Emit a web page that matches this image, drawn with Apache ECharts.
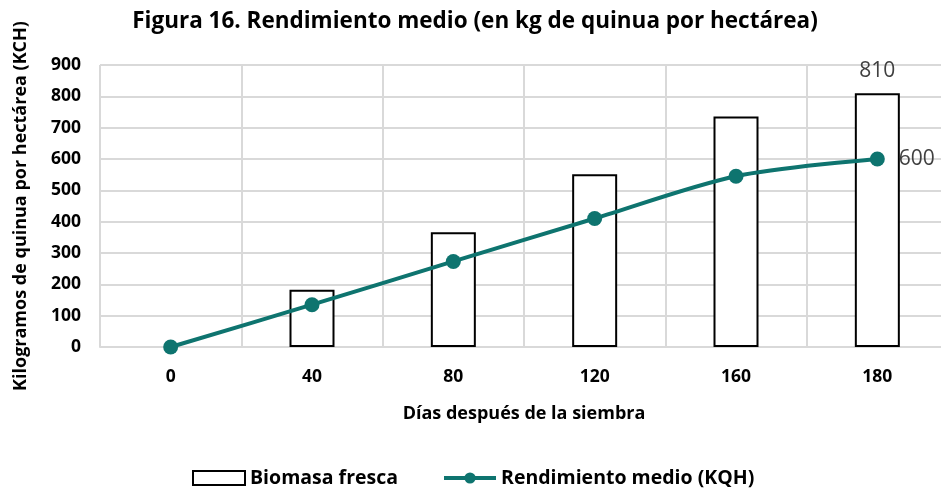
<!DOCTYPE html>
<html>
<head>
<meta charset="utf-8">
<script src="https://cdn.jsdelivr.net/npm/echarts@6/dist/echarts.min.js"></script>
<style>
  html, body { margin: 0; padding: 0; background: #fff; }
  #chart { width: 941px; height: 490px; }
</style>
</head>
<body>
<div id="chart"></div>
<script>
// days after sowing
const dias = ['0', '40', '80', '120', '160', '180'];
// fresh biomass (bars) – no bar at day 0
const biomasa = [null, 183, 366, 551, 736, 810];
// mean yield (line)
const rendimiento = [0, 135, 273, 410, 545, 600];

const FONT = '"Open Sans", "Liberation Sans", sans-serif';
const teal = '#0e746f';

const chart = echarts.init(document.getElementById('chart'));

const option = {
  animation: false,
  textStyle: { fontFamily: FONT },
  title: {
    text: 'Figura 16. Rendimiento medio (en kg de quinua por hectárea)',
    left: 470,
    textAlign: 'center',
    top: 5,
    textStyle: { fontSize: 22.5, fontWeight: 'bold', color: '#000', fontFamily: FONT }
  },
  legend: {
    top: 463,
    left: 187,
    itemGap: 44,
    itemWidth: 52,
    itemHeight: 14,
    textStyle: { fontSize: 19.5, fontWeight: 'bold', color: '#000', fontFamily: FONT },
    data: [
      { name: 'Biomasa fresca', icon: 'rect' },
      { name: 'Rendimiento medio (KQH)', lineStyle: { width: 4 } }
    ]
  },
  grid: { left: 100, right: -7, top: 65, bottom: 143, outerBoundsMode: 'none' },
  xAxis: {
    type: 'category',
    data: dias,
    name: 'Días después de la siembra',
    nameLocation: 'middle',
    nameGap: 58,
    nameTextStyle: { fontSize: 18, fontWeight: 'bold', color: '#000' },
    axisLine: { lineStyle: { color: '#d9d9d9', width: 2 } },
    axisTick: { show: false },
    axisLabel: { fontSize: 17.5, fontWeight: 'bold', color: '#000', margin: 21 },
    splitLine: { show: true, interval: 0, lineStyle: { color: '#d9d9d9', width: 2 } }
  },
  yAxis: {
    type: 'value',
    min: 0,
    max: 900,
    interval: 100,
    name: 'Kilogramos de quinua por hectárea (KCH)',
    nameLocation: 'middle',
    nameGap: 70,
    nameTextStyle: { fontSize: 18, fontWeight: 'bold', color: '#000' },
    axisLine: { show: false },
    axisTick: { show: false },
    axisLabel: { fontSize: 17.5, fontWeight: 'bold', color: '#000', margin: 19 },
    splitLine: { lineStyle: { color: '#d9d9d9', width: 2 } }
  },
  series: [
    {
      name: 'Biomasa fresca',
      type: 'bar',
      barWidth: 45,
      itemStyle: { color: '#fff', borderColor: '#000', borderWidth: 2 },
      data: biomasa.map((v, i) => i === biomasa.length - 1
        ? { value: v, label: { show: true, position: 'top', distance: 12, fontSize: 21, color: '#404040' } }
        : v)
    },
    {
      name: 'Rendimiento medio (KQH)',
      type: 'line',
      smooth: 0.3,
      symbol: 'circle',
      symbolSize: 15,
      lineStyle: { color: teal, width: 4 },
      itemStyle: { color: teal },
      data: rendimiento.map((v, i) => i === rendimiento.length - 1
        ? { value: v, label: { show: true, position: 'right', distance: 14, fontSize: 21, color: '#404040' } }
        : v)
    }
  ]
};

chart.setOption(option);
</script>
</body>
</html>
